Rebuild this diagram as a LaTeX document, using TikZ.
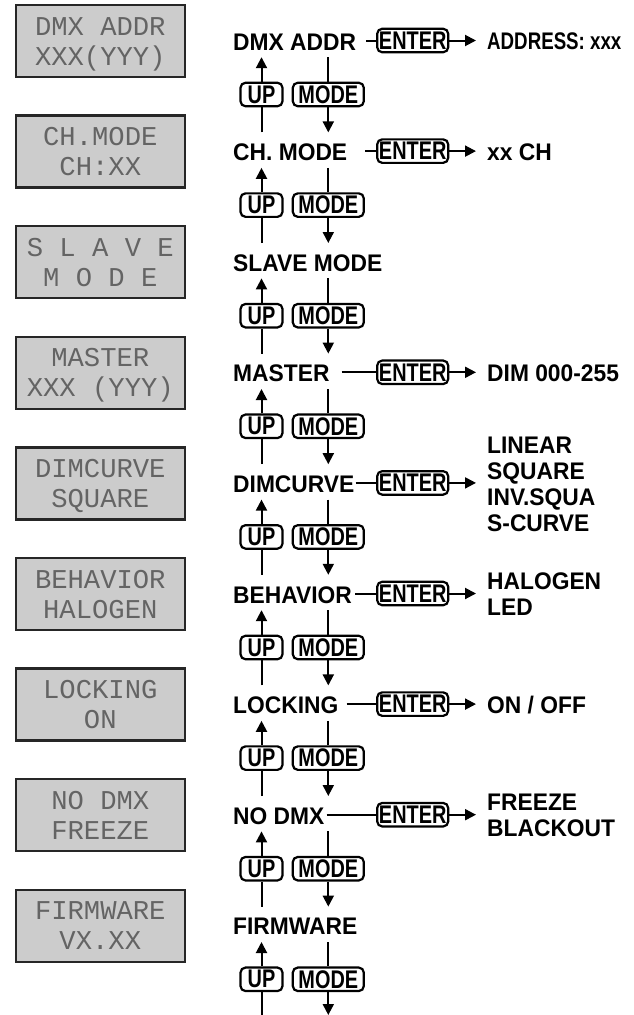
\documentclass[tikz,border=0pt]{standalone}
\usepackage{fontspec}
\setmainfont{Liberation Sans}
\newfontfamily\lcdfont{Liberation Mono}
\newfontfamily\menufont[FakeStretch=0.95]{Liberation Sans}
\newfontfamily\keyfont[FakeStretch=0.78]{Liberation Sans}
\newfontfamily\condfont[FakeStretch=0.78]{Liberation Sans}
\usetikzlibrary{arrows.meta}
\definecolor{lcdback}{RGB}{204,204,204}
\definecolor{lcdink}{RGB}{100,100,100}
\newcommand\lcdstrut{\rule[-6pt]{0pt}{30pt}}

\begin{document}
\begin{tikzpicture}[x=1pt,y=-1pt,
  lcd/.style={draw=black!85,line width=2.4pt,fill=lcdback,minimum width=169,minimum height=72,
    inner sep=0,align=center,text=lcdink,font=\lcdfont\fontsize{27.2}{30}\selectfont},
  menu/.style={anchor=base west,inner sep=0,text height=28,text depth=7,
    font=\menufont\bfseries\fontsize{24}{26}\selectfont},
  key/.style={draw,line width=2.2pt,rounded corners=5pt,fill=white,inner sep=0,minimum height=23.5,
    font=\keyfont\bfseries\fontsize{25.5}{26}\selectfont},
  value/.style={anchor=west,inner sep=0,align=left,font=\menufont\bfseries\fontsize{24}{26}\selectfont},
  link/.style={line width=2pt},
  go/.style={link,-{Triangle[length=11pt,width=11pt]}}]
\useasboundingbox (0,0) rectangle (634,1015);

% displays, menu entries and the UP / MODE keys
\foreach \k/\ta/\tb/\txt in {0/DMX ADDR/XXX(YYY)/DMX ADDR,1/CH.MODE/CH:XX/CH. MODE,
    2/S L A V E/M O D E/SLAVE MODE,3/MASTER/XXX (YYY)/MASTER,4/DIMCURVE/SQUARE/DIMCURVE,
    5/BEHAVIOR/HALOGEN/BEHAVIOR,6/LOCKING/ON/LOCKING,7/NO DMX/FREEZE/NO DMX,8/FIRMWARE/VX.XX/FIRMWARE}{
  \node[lcd] (lcd\k) at (100.3,41+110.6*\k) {\lcdstrut\ta\\\lcdstrut\tb};
  \node[menu] (m\k) at (233,50+110.6*\k) {\txt};
  \node[key,minimum width=42] (up\k) at (261.5,94.5+110.6*\k) {UP};
  \node[key,minimum width=71] (mode\k) at (328.3,94.5+110.6*\k) {MODE};
}
\coordinate (m9) at (290,1015);

% up and down between the entries
\foreach \k [evaluate=\k as \n using int(\k+1)] in {0,...,8}{
  \draw[link] (m\k.south -| mode\k.north) -- (mode\k.north);
  \draw[go] (mode\k.south) -- (mode\k.south |- m\n.north);
  \draw[link] (m\n.north -| up\k.south) -- (up\k.south);
  \draw[go] (up\k.north) -- (up\k.north |- m\k.south);
}

% ENTER and the settings
\foreach \k/\gap/\res in {0/10/{\condfont ADDRESS: xxx},1/18/xx CH,3/12/DIM 000-255,
    4/1/{LINEAR\\SQUARE\\INV.SQUA\\S-CURVE},5/3/{HALOGEN\\LED},6/8/{ON / OFF},7/2/{FREEZE\\BLACKOUT}}{
  \node[key,minimum width=71] (enter\k) at (412.7,40.5+110.6*\k) {ENTER};
  \node[value] (r\k) at (487,41.5+110.6*\k) {\res};
  \draw[link,shorten <=\gap] (m\k.east |- enter\k.west) -- (enter\k.west);
  \draw[go,shorten >=11] (enter\k.east) -- (enter\k.east -| r\k.west);
}
\end{tikzpicture}
\end{document}
